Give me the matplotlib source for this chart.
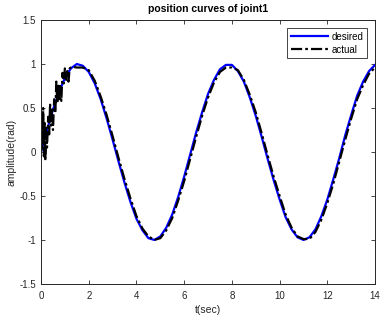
import matplotlib
matplotlib.use('Agg')
import matplotlib.pyplot as plt

plt.rcParams['font.family'] = ['Liberation Sans', 'DejaVu Sans']

# desired trajectory, every 0.25 s
t_des = [i * 0.25 for i in range(57)]
y_des = [0.0, 0.25, 0.48, 0.68, 0.84, 0.95, 1.0, 0.98, 0.91, 0.78, 0.60, 0.38, 0.14,
         -0.11, -0.35, -0.57, -0.76, -0.89, -0.98, -1.0, -0.96, -0.86, -0.71, -0.51,
         -0.28, -0.03, 0.22, 0.45, 0.66, 0.82, 0.94, 0.99, 0.99, 0.92, 0.80, 0.62,
         0.41, 0.17, -0.08, -0.32, -0.54, -0.74, -0.88, -0.97, -1.0, -0.97, -0.88,
         -0.73, -0.54, -0.31, -0.07, 0.19, 0.42, 0.64, 0.80, 0.92, 0.99]

# actual trajectory (noisy at the start)
t_act = [0.0, 0.03, 0.06, 0.09, 0.12, 0.15, 0.18, 0.21, 0.25, 0.3, 0.34, 0.38, 0.42,
         0.46, 0.5, 0.55, 0.6, 0.64, 0.68, 0.72, 0.76, 0.8, 0.85, 0.9, 0.95, 1.0,
         1.05, 1.1, 1.15, 1.2, 1.3, 1.5, 1.75, 2.0, 2.25, 2.5, 2.75, 3.0, 3.25, 3.5,
         3.75, 4.0, 4.25, 4.5, 4.75, 5.0, 5.25, 5.5, 5.75, 6.0, 6.25, 6.5, 6.75, 7.0,
         7.25, 7.5, 7.75, 8.0, 8.25, 8.5, 8.75, 9.0, 9.25, 9.5, 9.75, 10.0, 10.25,
         10.5, 10.75, 11.0, 11.25, 11.5, 11.75, 12.0, 12.25, 12.5, 12.75, 13.0, 13.25,
         13.5, 13.75, 14.0]
y_act = [0.0, 0.45, 0.05, 0.5, -0.05, 0.35, -0.1, 0.3, 0.05, 0.4, 0.2, 0.55, 0.3,
         0.5, 0.25, 0.6, 0.45, 0.8, 0.55, 0.78, 0.6, 0.75, 0.58, 0.9, 0.78, 0.95,
         0.82, 0.92, 0.8, 0.95, 0.97, 0.96, 0.96, 0.93, 0.81, 0.63, 0.42, 0.18, -0.07,
         -0.31, -0.53, -0.73, -0.87, -0.96, -1.0, -0.98, -0.89, -0.75, -0.55, -0.33,
         -0.08, 0.17, 0.41, 0.62, 0.79, 0.91, 0.96, 0.96, 0.93, 0.82, 0.65, 0.45, 0.21,
         -0.04, -0.28, -0.5, -0.71, -0.86, -0.96, -0.99, -0.99, -0.91, -0.77, -0.58,
         -0.36, -0.11, 0.14, 0.38, 0.6, 0.76, 0.89, 0.96]

x_ticks = [0, 2, 4, 6, 8, 10, 12, 14]
y_ticks = [-1.5, -1, -0.5, 0, 0.5, 1, 1.5]
y_labels = ['-1.5', '-1', '-0.5', '0', '0.5', '1', '1.5']

fig = plt.figure(figsize=(3.8, 3.23), dpi=100)
ax = fig.add_axes([0.108, 0.121, 0.879, 0.817])

ax.plot(t_des, y_des, color='#0000ff', lw=1.6, label='desired')
ax.plot(t_act, y_act, color='black', lw=1.6, dashes=(5, 1.4, 1.2, 1.4), label='actual')

ax.set_xlim(0, 14)
ax.set_ylim(-1.5, 1.5)
ax.set_xticks(x_ticks)
ax.set_xticklabels([str(v) for v in x_ticks])
ax.set_yticks(y_ticks)
ax.set_yticklabels(y_labels)
ax.tick_params(axis='x', pad=5)
ax.tick_params(direction='in', top=True, right=True, labelsize=7, length=3,
               width=0.6, colors='#262626')
for s in ax.spines.values():
    s.set_linewidth(0.7)
    s.set_color('#262626')

ax.set_xlabel('t(sec)', fontsize=7.5, color='#262626', labelpad=3)
ax.set_ylabel('amplitude(rad)', fontsize=7.5, color='#262626', labelpad=2)
ax.set_title('position curves of joint1', fontsize=7.5, fontweight='bold', pad=6)

leg = ax.legend(loc='upper right', fontsize=7, fancybox=False, framealpha=1,
                edgecolor='#262626', handlelength=3.8, handletextpad=0.35,
                borderpad=0.4, labelspacing=0.3, borderaxespad=0.8)
leg.get_frame().set_linewidth(0.6)

fig.savefig('out.png', dpi=100)
